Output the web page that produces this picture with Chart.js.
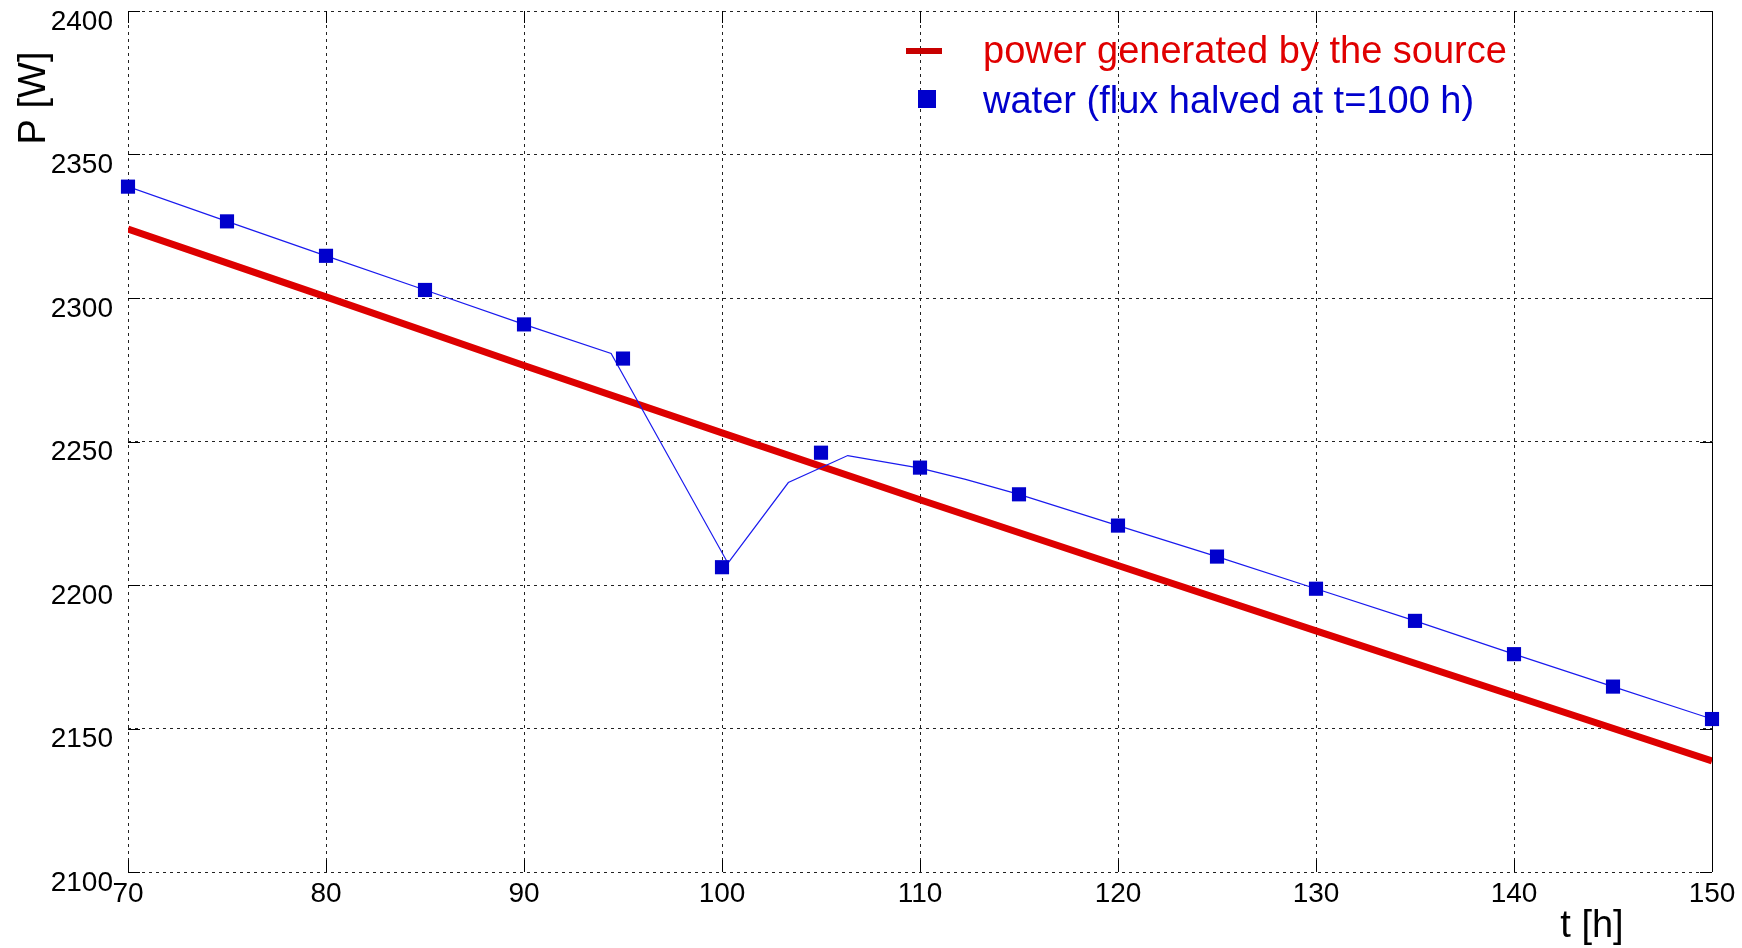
<!DOCTYPE html>
<html>
<head>
<meta charset="utf-8">
<script src="https://cdn.jsdelivr.net/npm/chart.js"></script>
<style>
  body { margin: 0; background: #fff; }
  .wrap { width: 1742px; height: 948px; }
</style>
</head>
<body>
<div class="wrap"><canvas id="myChart"></canvas></div>
<script>
// power generated by the source
const redT = [70, 80, 90, 100, 110, 120, 130, 140, 150];
const redP = [2324.0, 2300.4, 2276.5, 2253.0, 2229.7, 2206.8, 2184.0, 2161.4, 2138.7];

// water, thin line
const lineT = [70, 75, 80, 85, 90, 94.4, 100.3, 103.35, 106.35, 110, 112.3, 115, 120, 125, 130, 135, 140, 145, 150];
const lineP = [2338.8, 2326.7, 2314.7, 2302.8, 2290.8, 2280.7, 2207.6, 2235.7, 2245.1, 2240.7, 2236.8, 2231.6, 2220.7, 2209.9, 2198.7, 2187.5, 2175.9, 2164.6, 2153.3];

// water, square markers
const markT = [70, 75, 80, 85, 90, 95, 100, 105, 110, 115, 120, 125, 130, 135, 140, 145, 150];
const markP = [2338.8, 2326.7, 2314.7, 2302.8, 2290.8, 2278.9, 2206.2, 2246.1, 2240.9, 2231.6, 2220.7, 2209.9, 2198.7, 2187.5, 2175.9, 2164.6, 2153.3];

const legendLabels = ["power generated by the source", "water (flux halved at t=100 h)"];
const xTitle = "t [h]";
const yTitle = "P [W]";

const FONT = "'Liberation Sans', Arial, sans-serif";
const RED = "#dd0000";
const BLUE = "#0000cc";

const toXY = (xs, ys) => xs.map((v, i) => ({ x: v, y: ys[i] }));

const decor = {
  id: "decor",
  beforeDatasetsDraw(chart) {
    const { ctx, chartArea: a, scales: { x, y } } = chart;
    ctx.save();
    ctx.strokeStyle = "#000";
    ctx.lineWidth = 1;
    ctx.beginPath();
    x.ticks.forEach(t => {
      const px = Math.round(x.getPixelForValue(t.value)) + 0.5;
      ctx.moveTo(px, a.bottom); ctx.lineTo(px, a.bottom - 12);
      ctx.moveTo(px, a.top); ctx.lineTo(px, a.top + 12);
    });
    y.ticks.forEach(t => {
      const py = Math.round(y.getPixelForValue(t.value)) + 0.5;
      ctx.moveTo(a.left, py); ctx.lineTo(a.left + 12, py);
      ctx.moveTo(a.right, py); ctx.lineTo(a.right - 12, py);
    });
    ctx.moveTo(Math.round(a.right) + 0.5, a.top);
    ctx.lineTo(Math.round(a.right) + 0.5, a.bottom);
    ctx.stroke();
    ctx.restore();
  },
  afterDraw(chart) {
    const ctx = chart.ctx;
    ctx.save();
    // legend
    ctx.strokeStyle = "#c80000";
    ctx.lineWidth = 6;
    ctx.beginPath();
    ctx.moveTo(906, 51); ctx.lineTo(942, 51);
    ctx.stroke();
    ctx.fillStyle = BLUE;
    ctx.fillRect(918, 90, 18, 18);
    ctx.font = "38px " + FONT;
    ctx.textBaseline = "alphabetic";
    ctx.textAlign = "left";
    ctx.fillStyle = "#e00000";
    ctx.fillText(legendLabels[0], 983, 63);
    ctx.fillStyle = BLUE;
    ctx.fillText(legendLabels[1], 983, 113);
    // axis titles
    ctx.fillStyle = "#000";
    ctx.font = "38px " + FONT;
    ctx.textAlign = "center";
    ctx.fillText(xTitle, 1592, 937);
    ctx.translate(45, 98);
    ctx.rotate(-Math.PI / 2);
    ctx.fillText(yTitle, 0, 0);
    ctx.restore();
  }
};

const ctx = document.getElementById("myChart");

new Chart(ctx, {
  type: "scatter",
  data: {
    datasets: [
      {
        label: legendLabels[1],
        data: toXY(markT, markP),
        showLine: false,
        clip: false,
        pointStyle: "rect",
        pointRadius: 10,
        pointBackgroundColor: BLUE,
        pointBorderWidth: 0,
        order: 1
      },
      {
        label: "water line",
        data: toXY(lineT, lineP),
        showLine: true,
        borderColor: "#1a1aee",
        borderWidth: 1.2,
        pointRadius: 0,
        order: 2
      },
      {
        label: legendLabels[0],
        data: toXY(redT, redP),
        showLine: true,
        borderColor: RED,
        borderWidth: 7,
        pointRadius: 0,
        order: 3
      }
    ]
  },
  options: {
    responsive: true,
    maintainAspectRatio: false,
    animation: false,
    layout: { autoPadding: false, padding: { top: 11, right: 30, left: 0, bottom: 0 } },
    plugins: { legend: { display: false }, tooltip: { enabled: false } },
    scales: {
      x: {
        type: "linear",
        min: 70,
        max: 150,
        afterFit: s => { s.height = 76; s.paddingLeft = 0; s.paddingRight = 0; },
        ticks: {
          stepSize: 10, color: "#000", padding: 5,
          font: { family: FONT, size: 28 },
          callback: v => String(v)
        },
        grid: { color: "#222", lineWidth: 1, drawTicks: false },
        border: { display: false, dash: [3, 4] }
      },
      y: {
        min: 2100,
        max: 2400,
        afterFit: s => { s.width = 128; s.paddingTop = 0; s.paddingBottom = 0; },
        ticks: {
          stepSize: 50, color: "#000", padding: 15, labelOffset: 11,
          font: { family: FONT, size: 28 },
          callback: v => String(v)
        },
        grid: { color: "#222", lineWidth: 1, drawTicks: false },
        border: { display: false, dash: [3, 4] }
      }
    }
  },
  plugins: [decor]
});
</script>
</body>
</html>
